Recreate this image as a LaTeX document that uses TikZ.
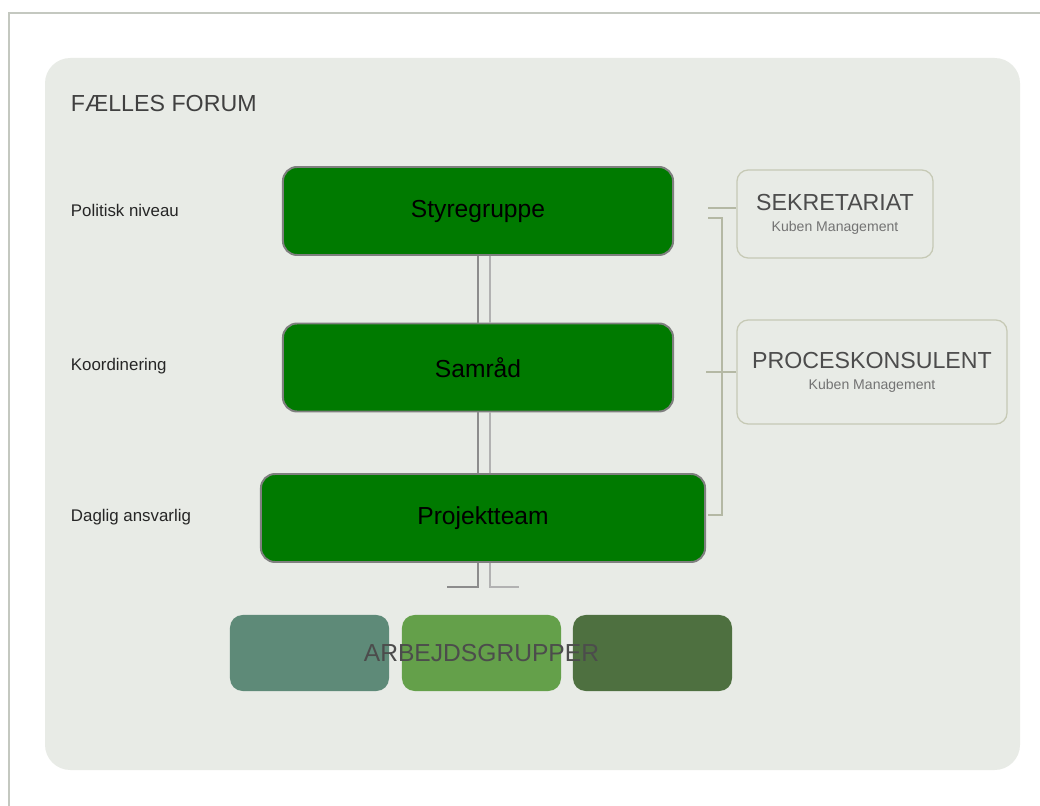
\documentclass[tikz,border=0pt]{standalone}
\usepackage{fontspec}
\setmainfont{Liberation Sans}
\definecolor{panel}{HTML}{E8EBE6}
\definecolor{frame}{HTML}{C4C8C0}
\definecolor{boxgreen}{HTML}{007A00}
\definecolor{boxedge}{HTML}{7F7F7F}
\definecolor{sideedge}{HTML}{C6C9B5}
\definecolor{sideline}{HTML}{B4B8A4}
\definecolor{grpa}{HTML}{5E8A78}
\definecolor{grpb}{HTML}{64A04A}
\definecolor{grpc}{HTML}{4E7040}
\begin{document}
\begin{tikzpicture}[x=0.025cm,y=-0.025cm,
  level/.style={draw=boxedge,line width=1.4pt,fill=boxgreen,rounded corners=10pt,
    minimum height=2.2cm,inner sep=0pt,font=\fontsize{17.5}{20}\selectfont},
  side/.style={draw=sideedge,line width=0.9pt,fill=panel,rounded corners=8pt,
    align=center,inner sep=0pt},
  grp/.style={rounded corners=9pt,minimum width=3.975cm,minimum height=1.9cm,inner sep=0pt},
  lbl/.style={anchor=west,font=\fontsize{12}{14}\selectfont,text=black!85},
  link/.style={line width=1pt},
  bracket/.style={draw=sideline,line width=0.9pt}]
\useasboundingbox (0,0) rectangle (1040,806);
\fill[white] (0,0) rectangle (1040,806);
\draw[frame,line width=1pt] (9,806) -- (9,13) -- (1040,13);
\fill[panel] (45,58) [rounded corners=18pt] rectangle (1020,770);

\node at (66,104) [anchor=west,font=\fontsize{16.5}{19}\selectfont,text=black!75] (forum) {FÆLLES FORUM};

\node at (478,211) [level,minimum width=9.75cm] (sty) {Styregruppe};
\node at (478,367.5) [level,minimum width=9.75cm] (sam) {Samråd};
\node at (483,518) [level,minimum width=11.1cm] (pro) {Projektteam};

\node at (66,210) [lbl] (pol) {Politisk niveau};
\node at (66,366) [lbl] (koo) {Koordinering};
\node at (66,517) [lbl] (dag) {Daglig ansvarlig};

\node at (835,214) [side,minimum width=4.9cm,minimum height=2.2cm] (sek)
  {{\fontsize{16.5}{18}\selectfont\color{black!70}SEKRETARIAT}\\[3pt]
   {\fontsize{10}{12}\selectfont\color{black!55}Kuben Management}};
\node at (872,372) [side,minimum width=6.75cm,minimum height=2.6cm] (kon)
  {{\fontsize{16.5}{18}\selectfont\color{black!70}PROCESKONSULENT}\\[3pt]
   {\fontsize{10}{12}\selectfont\color{black!55}Kuben Management}};

\node at (309.5,653) [grp,fill=grpa] (ga) {};
\node at (481.5,653) [grp,fill=grpb] (gb) {};
\node at (652.5,653) [grp,fill=grpc] (gc) {};
\node at (gb.center) [font=\fontsize{17.5}{20}\selectfont,text=black!70] (arb) {ARBEJDSGRUPPER};

% lines between the levels
\coordinate (la) at (478,0);
\coordinate (lb) at (490,0);
\coordinate (da) at (447,587);
\coordinate (db) at (519,587);
\draw[link,black!45] (sty.south -| la) -- (sam.north -| la);
\draw[link,black!30] (sty.south -| lb) -- (sam.north -| lb);
\draw[link,black!45] (sam.south -| la) -- (pro.north -| la);
\draw[link,black!30] (sam.south -| lb) -- (pro.north -| lb);
\draw[link,black!45] (pro.south -| la) |- (da);
\draw[link,black!30] (pro.south -| lb) |- (db);

% bracket to the right
\coordinate (bt) at (708,218);
\coordinate (bb) at (708,515);
\coordinate (bx) at (722,0);
\draw[bracket] (708,208) coordinate (st) -- (sek.west |- st);
\draw[bracket] (bt) -| (bx |- bb) -- (bb);
\draw[bracket] (kon.west) -- (706,372);
\end{tikzpicture}
\end{document}
